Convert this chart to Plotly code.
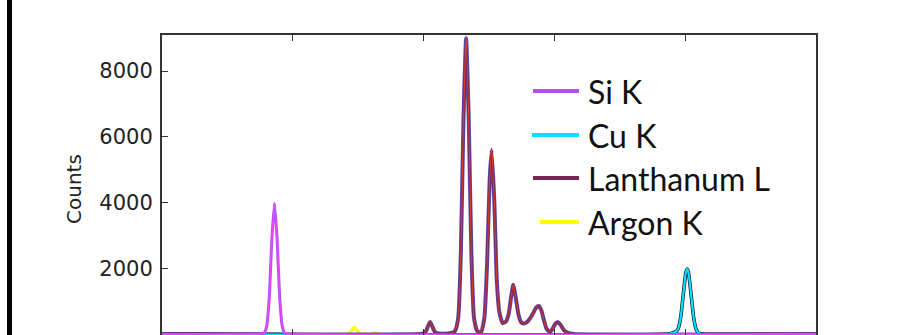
import plotly.graph_objects as go

# ---- data (energy in keV, counts) ----
si_energy = [0.0, 1.50, 1.56, 1.60, 1.64, 1.68, 1.72, 1.76, 1.80, 1.84, 1.88, 1.94, 10.0]
si_counts = [0, 0, 25, 225, 1100, 2890, 3980, 2890, 1100, 225, 25, 0, 0]

ar_energy = [0.0, 2.80, 2.86, 2.90, 2.94, 2.98, 3.02, 3.07, 3.18, 3.26, 3.33, 10.0]
ar_counts = [0, 0, 20, 110, 210, 110, 20, 0, 0, 45, 0, 0]

la_energy = [0.0, 3.95, 4.00, 4.04, 4.07, 4.10, 4.13, 4.16, 4.20, 4.30, 4.42, 4.48, 4.53, 4.57,
             4.61, 4.65, 4.69, 4.73, 4.77, 4.82, 4.88, 4.93, 4.97, 5.01, 5.04, 5.08, 5.12, 5.16,
             5.21, 5.26, 5.30, 5.34, 5.37, 5.41, 5.45, 5.49, 5.53, 5.58, 5.63, 5.68, 5.72, 5.76,
             5.80, 5.84, 5.88, 5.93, 5.97, 6.01, 6.05, 6.09, 6.14, 6.20, 6.30, 10.0]
la_counts = [0, 0, 20, 100, 250, 365, 250, 100, 25, 10, 30, 90, 505, 2500,
             6530, 9000, 6530, 2500, 505, 90, 60, 500, 2100, 4680, 5600, 4100, 1600, 650,
             330, 380, 600, 1150, 1500, 1100, 600, 360, 320, 360, 480, 650, 800, 850,
             720, 420, 160, 60, 150, 300, 365, 290, 130, 40, 0, 0]

cu_energy = [0.0, 7.75, 7.81, 7.85, 7.89, 7.93, 7.97, 8.01, 8.03, 8.05, 8.09, 8.13, 8.17, 8.21, 8.26, 10.0]
cu_counts = [0, 0, 40, 60, 150, 490, 1200, 1870, 1980, 1870, 1200, 490, 130, 22, 0, 0]

series_names = ["Si K", "Cu K", "Lanthanum L", "Argon K"]
series_colors = ["#b54ff0", "#00e1ff", "#7a2550", "#ffff00"]

y_ticks = [0, 2000, 4000, 6000, 8000]
x_ticks = [2, 4, 6, 8]

# ---- layout constants (pixels) ----
W, H = 916, 335
ML, MR, MT, MB = 162, 100, 35, 0
PW, PH = W - ML - MR, H - MT - MB


def px2x(px):
    return (px - ML) / PW


def py2y(py):
    return (H - py) / PH


fig = go.Figure()
sm = dict(shape="spline", smoothing=0.5)

# Argon K
fig.add_trace(go.Scatter(x=ar_energy, y=ar_counts, mode="lines", name="Argon K",
                         line=dict(color=series_colors[3], width=3, **sm), showlegend=False))
# Lanthanum L (fit overlays)
fig.add_trace(go.Scatter(x=la_energy, y=la_counts, mode="lines", showlegend=False, hoverinfo="skip",
                         line=dict(color="#5a46a8", width=4, **sm)))
fig.add_trace(go.Scatter(x=la_energy, y=la_counts, mode="lines", name="Lanthanum L", showlegend=False,
                         line=dict(color=series_colors[2], width=2.2, **sm)))
fig.add_trace(go.Scatter(x=la_energy, y=la_counts, mode="lines", showlegend=False, hoverinfo="skip",
                         line=dict(color="#d8402a", width=1, **sm)))
# Cu K
fig.add_trace(go.Scatter(x=cu_energy, y=cu_counts, mode="lines", showlegend=False, hoverinfo="skip",
                         line=dict(color="#111111", width=3.5, **sm)))
fig.add_trace(go.Scatter(x=cu_energy, y=cu_counts, mode="lines", name="Cu K", showlegend=False,
                         line=dict(color=series_colors[1], width=2.2, **sm)))
# Si K
fig.add_trace(go.Scatter(x=si_energy, y=si_counts, mode="lines", name="Si K", showlegend=False,
                         line=dict(color=series_colors[0], width=3, **sm)))
fig.add_trace(go.Scatter(x=si_energy, y=si_counts, mode="lines", showlegend=False, hoverinfo="skip",
                         line=dict(color="#ff44ff", width=1, **sm)))

# manual legend
leg_rows = [91, 135, 178, 222]
leg_x0 = [533, 532, 533, 540]
shapes = []
annotations = []
for name, col, py, x0 in zip(series_names, series_colors, leg_rows, leg_x0):
    shapes.append(dict(type="line", xref="paper", yref="paper",
                       x0=px2x(x0), x1=px2x(579), y0=py2y(py), y1=py2y(py),
                       line=dict(color=col, width=4)))
    annotations.append(dict(text=name, xref="paper", yref="paper", x=px2x(586), y=py2y(py),
                            xanchor="left", yanchor="middle", showarrow=False,
                            font=dict(family="Lato", size=32, color="#111111")))

# left black frame bar
shapes.append(dict(type="rect", xref="paper", yref="paper",
                   x0=px2x(7), x1=px2x(12), y0=-0.05, y1=1.2,
                   line=dict(width=0), fillcolor="#000000"))

annotations.append(dict(text="Counts", xref="paper", yref="paper", x=px2x(74), y=py2y(189),
                        xanchor="center", yanchor="middle", textangle=-90, showarrow=False,
                        font=dict(family="DejaVu Sans", size=20, color="#222222")))

y_max = (H - MT - 1) * 8000 / 263.0
y_min = -(H - 334) * 8000 / 263.0

fig.update_layout(
    width=W, height=H,
    margin=dict(l=ML, r=MR, t=MT, b=MB, pad=0),
    paper_bgcolor="white", plot_bgcolor="white",
    showlegend=False,
    shapes=shapes, annotations=annotations,
    xaxis=dict(range=[0, 10], tickvals=x_ticks, ticks="inside", ticklen=6, tickcolor="#333",
               showticklabels=False, showgrid=False, zeroline=False,
               showline=True, linecolor="#333", linewidth=2, mirror="ticks", automargin=False),
    yaxis=dict(range=[y_min, y_max], tickvals=y_ticks, ticks="inside", ticklen=6, tickcolor="#333",
               showgrid=False, zeroline=False, showline=True, linecolor="#333", linewidth=2,
               mirror=True, automargin=False, ticklabelstandoff=3,
               tickfont=dict(family="DejaVu Sans", size=21, color="#222222")),
)

fig.write_html("out.html")
